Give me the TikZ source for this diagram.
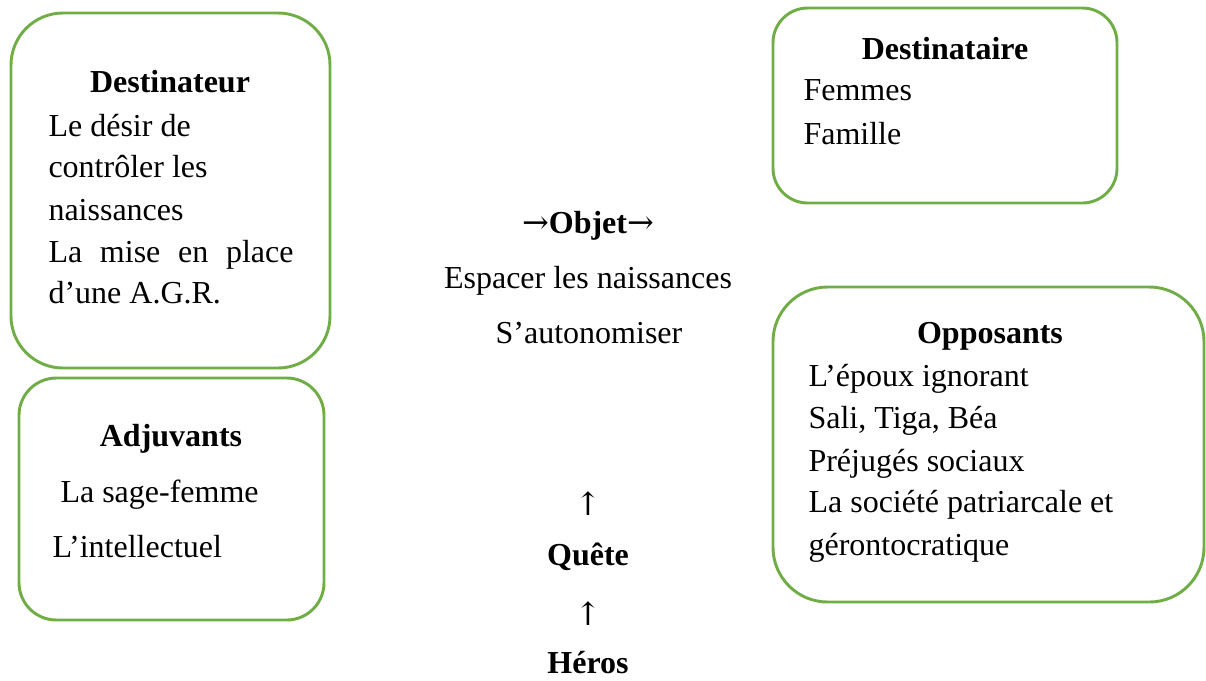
\documentclass[tikz,border=0pt]{standalone}
\usepackage{fontspec}
\setmainfont{Liberation Serif}
\newfontfamily\fleches{DejaVu Serif}
\definecolor{vertcadre}{HTML}{70AD47}
\tikzset{
 cadre/.style={draw=vertcadre, line width=1.1pt},
 titre/.style={anchor=base, inner sep=0pt, font=\fontsize{12}{14}\selectfont\bfseries},
 ligne/.style={anchor=base west, inner sep=0pt, font=\fontsize{12}{14}\selectfont},
 centre/.style={anchor=base, inner sep=0pt, font=\fontsize{12}{14}\selectfont}
}
\begin{document}
\begin{tikzpicture}[x=0.375pt, y=-0.375pt, line join=round, line cap=round]
 \useasboundingbox (0,0) rectangle (1206,680);
 % cadres
 \draw[cadre, rounded corners=19.5pt] (11,13) rectangle (330,368);
 \draw[cadre, rounded corners=14pt] (19,378) rectangle (324,620);
 \draw[cadre, rounded corners=13pt] (773,8) rectangle (1117,203);
 \draw[cadre, rounded corners=20.5pt] (773,287) rectangle (1204,602);
 % Destinateur
 \node[titre] (dest-titre) at (170,92) {Destinateur};
 \node[ligne] (dest-1) at (48,136) {Le désir de};
 \node[ligne] (dest-2) at (48,177) {contrôler les};
 \node[ligne] (dest-3) at (48,220) {naissances};
 \node[ligne] (dest-4) at (48,262) {\makebox[91.9pt][s]{La mise en place}};
 \node[ligne] (dest-5) at (48,303) {d’une A.G.R.};
 % Adjuvants
 \node[titre] (adj-titre) at (171,446) {Adjuvants};
 \node[ligne] (adj-1) at (60,502) {La sage-femme};
 \node[ligne] (adj-2) at (52,557) {L’intellectuel};
 % Destinataire
 \node[titre] (dst-titre) at (945,59) {Destinataire};
 \node[ligne] (dst-1) at (803,100) {Femmes};
 \node[ligne] (dst-2) at (803,144) {Famille};
 % Opposants
 \node[titre] (opp-titre) at (990,343) {Opposants};
 \node[ligne] (opp-1) at (808,386) {L’époux ignorant};
 \node[ligne] (opp-2) at (808,428) {Sali, Tiga, Béa};
 \node[ligne] (opp-3) at (808,471) {Préjugés sociaux};
 \node[ligne] (opp-4) at (808,512) {La société patriarcale et};
 \node[ligne] (opp-5) at (808,555) {gérontocratique};
 % axe central
 \node[centre] (objet) at (588,233) {{\fleches →}\textbf{Objet}{\fleches →}};
 \node[centre] (obj-1) at (588,288) {Espacer les naissances};
 \node[centre] (obj-2) at (589,343) {S’autonomiser};
 \node[centre] (fleche-1) at (588,515) {\fleches ↑};
 \node[titre] (quete) at (588,565) {Quête};
 \node[centre] (fleche-2) at (588,625) {\fleches ↑};
 \node[titre] (heros) at (588,673) {Héros};
\end{tikzpicture}
\end{document}
